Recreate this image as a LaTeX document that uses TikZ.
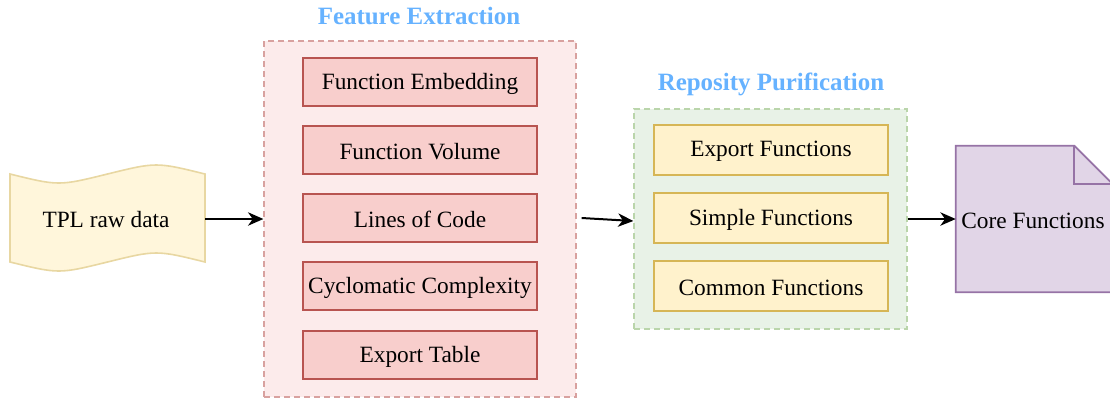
\documentclass[tikz,border=0pt]{standalone}
\usepackage{fontspec}
\setmainfont{Liberation Serif}
\usetikzlibrary{arrows.meta}
\definecolor{redfill}{HTML}{F8CECC}
\definecolor{redline}{HTML}{B85450}
\definecolor{yelfill}{HTML}{FFF2CC}
\definecolor{yelline}{HTML}{D6B656}
\definecolor{grnfill}{HTML}{D5E8D4}
\definecolor{grnline}{HTML}{82B366}
\definecolor{purfill}{HTML}{E1D5E7}
\definecolor{purline}{HTML}{9673A6}
\definecolor{titleblue}{HTML}{66B2FF}
\tikzset{
  txt/.style={font=\fontsize{17.5}{20}\selectfont, text=black, inner sep=0pt},
  lbl/.style={txt, yshift=-1.3pt},
  title/.style={font=\fontsize{18.7}{22}\selectfont\bfseries, text=titleblue, inner sep=0pt, yshift=-0.8pt},
  redbox/.style={draw=redline, fill=redfill, line width=1.2pt, minimum width=234*0.75pt, minimum height=48*0.75pt, inner sep=0pt},
  yelbox/.style={draw=yelline, fill=yelfill, line width=1.2pt, minimum width=234*0.75pt, minimum height=50*0.75pt, inner sep=0pt},
  redgroup/.style={draw=redline!55!white, fill=redfill!40!white, dashed, dash pattern=on 4.5pt off 3pt, line width=0.9pt, inner sep=0pt},
  grngroup/.style={draw=grnline!55!white, fill=grnfill!55!white, dashed, dash pattern=on 4.5pt off 3pt, line width=0.9pt, inner sep=0pt},
  conn/.style={-{Stealth[length=11.5pt,width=10pt,inset=3.5pt]}, line width=1.5pt, black},
}
\begin{document}
\begin{tikzpicture}[x=0.75pt,y=-0.75pt]
\useasboundingbox (0,0) rectangle (1110,401);
\clip (0,0) rectangle (1110,401);

% Feature Extraction group
\node[redgroup, minimum width=312*0.75pt, minimum height=356*0.75pt] (red) at (420,219) {};
\node[title] (t1) at (419,15) {Feature Extraction};
\node[redbox] (f1) at (420,82) {};
\node[redbox] (f2) at (420,150) {};
\node[redbox] (f3) at (420,218) {};
\node[redbox] (f4) at (420,286) {};
\node[redbox] (f5) at (420,355) {};
\node[lbl] at (f1.center) {Function Embedding};
\node[lbl] at (f2.center) {Function Volume};
\node[lbl] at (f3.center) {Lines of Code};
\node[lbl] at (f4.center) {Cyclomatic Complexity};
\node[lbl] at (f5.center) {Export Table};

% Reposity Purification group
\node[grngroup, minimum width=273*0.75pt, minimum height=220*0.75pt] (grn) at (770.5,219) {};
\node[title] (t2) at (771,83) {Reposity Purification};
\node[yelbox] (p1) at (771,150) {};
\node[yelbox] (p2) at (771,218) {};
\node[yelbox] (p3) at (771,286) {};
\node[lbl] at (p1.center) {Export Functions};
\node[lbl] at (p2.center) {Simple Functions};
\node[lbl] at (p3.center) {Common Functions};

% TPL raw data (tape)
\node[inner sep=0pt, minimum width=195*0.75pt, minimum height=88*0.75pt] (tpl) at (107.5,219) {};
\filldraw[fill=yelfill!70!white, draw=yelline!55!white, line width=1.2pt]
  (10,174) .. controls (58.75,186) .. (107.5,174) .. controls (156.25,162) .. (205,174)
  -- (205,262) .. controls (156.25,250) .. (107.5,262) .. controls (58.75,274) .. (10,262) -- cycle;
\node[lbl] at (106,218) {TPL raw data};

% Core Functions (note)
\node[inner sep=0pt, minimum width=156*0.75pt, minimum height=146*0.75pt] (core) at (1034,219) {};
\filldraw[fill=purfill, draw=purline, line width=1.3pt]
  (core.south west) -- (core.north west) -- ([xshift=-28.5pt]core.north east)
  -- ([yshift=-28.5pt]core.north east) -- (core.south east) -- cycle;
\draw[purline, line width=1.3pt] ([xshift=-28.5pt]core.north east) |- ([yshift=-28.5pt]core.north east);
\node[lbl] at (1033,219) {Core Functions};

% connectors
\draw[conn] (tpl.east) -- (red.west);
\draw[conn] ([shift={(5,-1)}]red.east) -- ([shift={(0,2)}]grn.west);
\draw[conn] (grn.east) -- (core.west);
\end{tikzpicture}
\end{document}
